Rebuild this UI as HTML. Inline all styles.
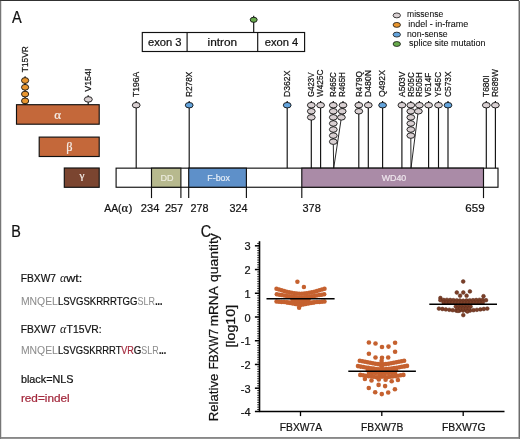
<!DOCTYPE html>
<html><head><meta charset="utf-8"><title>FBXW7 mutations</title>
<style>html,body{margin:0;padding:0;background:#fff;}svg{display:block;}text{stroke-width:0.22px;paint-order:stroke fill;}</style></head><body>
<svg width="520" height="439" viewBox="0 0 520 439">
<rect x="0" y="0" width="520" height="439" fill="#ffffff"/>
<rect x="0" y="0" width="519" height="0.95" fill="#262626"/>
<rect x="0" y="0.9" width="1" height="438.1" fill="#767676"/>
<rect x="1" y="0.95" width="1" height="436.2" fill="#dedede"/>
<rect x="518" y="1" width="1" height="437" fill="#b8b8b8"/>
<rect x="519" y="0.9" width="1" height="438.1" fill="#6c6c6c"/>
<rect x="0" y="437.1" width="520" height="1.7" fill="#7c7c7c"/>
<text x="12.10" y="22.90" font-size="17.0" fill="#111111" stroke="#111111" text-anchor="start" font-family='"Liberation Sans", sans-serif' textLength="9.70" lengthAdjust="spacingAndGlyphs">A</text>
<text x="11.20" y="236.70" font-size="15.6" fill="#111111" stroke="#111111" text-anchor="start" font-family='"Liberation Sans", sans-serif' textLength="9.60" lengthAdjust="spacingAndGlyphs">B</text>
<text x="200.70" y="237.10" font-size="16.2" fill="#111111" stroke="#111111" text-anchor="start" font-family='"Liberation Sans", sans-serif' textLength="10.50" lengthAdjust="spacingAndGlyphs">C</text>
<ellipse cx="396.80" cy="15.40" rx="3.7" ry="2.45" fill="#d9d0d2" stroke="#111111" stroke-width="0.8"/>
<text x="407.00" y="17.40" font-size="9.6" fill="#111111" stroke="#111111" text-anchor="start" font-family='"Liberation Sans", sans-serif' textLength="36.20" lengthAdjust="spacingAndGlyphs" style="stroke-width:0.08px">missense</text>
<ellipse cx="396.80" cy="24.90" rx="3.7" ry="2.45" fill="#e9962f" stroke="#111111" stroke-width="0.8"/>
<text x="408.30" y="27.30" font-size="9.6" fill="#111111" stroke="#111111" text-anchor="start" font-family='"Liberation Sans", sans-serif' textLength="60.00" lengthAdjust="spacingAndGlyphs" style="stroke-width:0.08px">indel - in-frame</text>
<ellipse cx="396.80" cy="34.60" rx="3.7" ry="2.45" fill="#64a4dc" stroke="#111111" stroke-width="0.8"/>
<text x="407.00" y="36.80" font-size="9.6" fill="#111111" stroke="#111111" text-anchor="start" font-family='"Liberation Sans", sans-serif' textLength="40.60" lengthAdjust="spacingAndGlyphs" style="stroke-width:0.08px">non-sense</text>
<ellipse cx="396.80" cy="44.00" rx="3.7" ry="2.45" fill="#68ab4c" stroke="#111111" stroke-width="0.8"/>
<text x="409.00" y="46.40" font-size="9.6" fill="#111111" stroke="#111111" text-anchor="start" font-family='"Liberation Sans", sans-serif' textLength="76.50" lengthAdjust="spacingAndGlyphs" style="stroke-width:0.08px">splice site mutation</text>
<rect x="142.3" y="32.5" width="162.3" height="19" fill="#fff" stroke="#111111" stroke-width="1.15"/>
<line x1="187.10" y1="32.50" x2="187.10" y2="51.50" stroke="#111111" stroke-width="1.15" stroke-linecap="butt"/>
<line x1="257.70" y1="32.50" x2="257.70" y2="51.50" stroke="#111111" stroke-width="1.15" stroke-linecap="butt"/>
<text x="148.00" y="45.50" font-size="11.3" fill="#111111" stroke="#111111" text-anchor="start" font-family='"Liberation Sans", sans-serif' textLength="33.60" lengthAdjust="spacingAndGlyphs">exon 3</text>
<text x="207.60" y="45.50" font-size="11.3" fill="#111111" stroke="#111111" text-anchor="start" font-family='"Liberation Sans", sans-serif' textLength="29.60" lengthAdjust="spacingAndGlyphs">intron</text>
<text x="264.70" y="45.50" font-size="11.3" fill="#111111" stroke="#111111" text-anchor="start" font-family='"Liberation Sans", sans-serif' textLength="33.60" lengthAdjust="spacingAndGlyphs">exon 4</text>
<line x1="253.70" y1="15.80" x2="253.70" y2="32.50" stroke="#111111" stroke-width="1.15" stroke-linecap="butt"/>
<ellipse cx="253.70" cy="19.80" rx="3.5" ry="2.55" fill="#68ab4c" stroke="#111111" stroke-width="0.9"/>
<rect x="16.5" y="104.7" width="82.7" height="19.5" fill="#c4683a" stroke="#111111" stroke-width="1.15"/>
<rect x="39.2" y="137.1" width="60" height="19.4" fill="#c4683a" stroke="#111111" stroke-width="1.15"/>
<rect x="64.3" y="168" width="34.9" height="19.3" fill="#7b4530" stroke="#111111" stroke-width="1.15"/>
<text x="57.60" y="119.00" font-size="13" fill="#f4ece6" stroke="#f4ece6" text-anchor="middle" font-family='"Liberation Serif", serif'>α</text>
<text x="69.40" y="151.20" font-size="12.4" fill="#f4ece6" stroke="#f4ece6" text-anchor="middle" font-family='"Liberation Serif", serif'>β</text>
<text x="81.90" y="179.00" font-size="11.2" fill="#f4ece6" stroke="#f4ece6" text-anchor="middle" font-family='"Liberation Serif", serif'>γ</text>
<line x1="25.10" y1="76.20" x2="25.10" y2="104.70" stroke="#111111" stroke-width="1.15" stroke-linecap="butt"/>
<ellipse cx="25.10" cy="100.90" rx="3.6" ry="2.9" fill="#e9962f" stroke="#111111" stroke-width="0.9"/>
<ellipse cx="25.10" cy="94.10" rx="3.6" ry="2.9" fill="#e9962f" stroke="#111111" stroke-width="0.9"/>
<ellipse cx="25.10" cy="87.30" rx="3.6" ry="2.9" fill="#e9962f" stroke="#111111" stroke-width="0.9"/>
<ellipse cx="25.10" cy="80.50" rx="3.6" ry="2.9" fill="#e9962f" stroke="#111111" stroke-width="0.9"/>
<text transform="translate(28.00 72.20) rotate(-90)" font-size="9.7" fill="#111111" stroke="#111111" font-family='"Liberation Sans", sans-serif' textLength="25.90" lengthAdjust="spacingAndGlyphs">T15VR</text>
<line x1="88.20" y1="95.20" x2="88.20" y2="104.70" stroke="#111111" stroke-width="1.15" stroke-linecap="butt"/>
<ellipse cx="88.30" cy="99.40" rx="4.0" ry="2.75" fill="#d9d0d2" stroke="#111111" stroke-width="0.9"/>
<text transform="translate(91.10 91.80) rotate(-90)" font-size="9.7" fill="#111111" stroke="#111111" font-family='"Liberation Sans", sans-serif' textLength="23.30" lengthAdjust="spacingAndGlyphs">V154I</text>
<rect x="116.1" y="168.15" width="381.9" height="19.1" fill="#fff" stroke="#111111" stroke-width="1.15"/>
<rect x="151.5" y="168.15" width="29.4" height="19.1" fill="#b7b98e" stroke="#111111" stroke-width="1.15"/>
<rect x="188.7" y="168.15" width="57.7" height="19.1" fill="#5e90c9" stroke="#111111" stroke-width="1.15"/>
<rect x="301.8" y="168.15" width="181.7" height="19.1" fill="#aa8ba7" stroke="#111111" stroke-width="1.15"/>
<text x="167.10" y="180.90" font-size="9.7" fill="#ecebdd" stroke="#ecebdd" text-anchor="middle" font-family='"Liberation Sans", sans-serif' textLength="13.00" lengthAdjust="spacingAndGlyphs">DD</text>
<text x="218.60" y="180.90" font-size="9.7" fill="#e3ecf6" stroke="#e3ecf6" text-anchor="middle" font-family='"Liberation Sans", sans-serif' textLength="22.60" lengthAdjust="spacingAndGlyphs">F-box</text>
<text x="394.00" y="180.90" font-size="9.7" fill="#eee6ed" stroke="#eee6ed" text-anchor="middle" font-family='"Liberation Sans", sans-serif' textLength="24.60" lengthAdjust="spacingAndGlyphs">WD40</text>
<line x1="151.50" y1="187.25" x2="151.50" y2="198.10" stroke="#111111" stroke-width="1.15" stroke-linecap="butt"/>
<line x1="180.90" y1="187.25" x2="180.90" y2="198.10" stroke="#111111" stroke-width="1.15" stroke-linecap="butt"/>
<line x1="188.70" y1="187.25" x2="188.70" y2="198.10" stroke="#111111" stroke-width="1.15" stroke-linecap="butt"/>
<line x1="246.40" y1="187.25" x2="246.40" y2="198.10" stroke="#111111" stroke-width="1.15" stroke-linecap="butt"/>
<line x1="301.80" y1="187.25" x2="301.80" y2="198.10" stroke="#111111" stroke-width="1.15" stroke-linecap="butt"/>
<line x1="483.50" y1="187.25" x2="483.50" y2="198.10" stroke="#111111" stroke-width="1.15" stroke-linecap="butt"/>
<text x="104.20" y="212.45" font-size="11.8" fill="#111111" stroke="#111111" text-anchor="start" font-family='"Liberation Sans", sans-serif' textLength="17.40" lengthAdjust="spacingAndGlyphs">AA(</text>
<text x="121.40" y="212.45" font-size="12.5" fill="#111111" stroke="#111111" text-anchor="start" font-family='"Liberation Serif", serif'>α</text>
<text x="128.50" y="212.45" font-size="11.8" fill="#111111" stroke="#111111" text-anchor="start" font-family='"Liberation Sans", sans-serif'>)</text>
<text x="140.80" y="212.45" font-size="11.8" fill="#111111" stroke="#111111" text-anchor="start" font-family='"Liberation Sans", sans-serif' textLength="18.50" lengthAdjust="spacingAndGlyphs">234</text>
<text x="164.90" y="212.45" font-size="11.8" fill="#111111" stroke="#111111" text-anchor="start" font-family='"Liberation Sans", sans-serif' textLength="18.30" lengthAdjust="spacingAndGlyphs">257</text>
<text x="190.50" y="212.45" font-size="11.8" fill="#111111" stroke="#111111" text-anchor="start" font-family='"Liberation Sans", sans-serif' textLength="18.00" lengthAdjust="spacingAndGlyphs">278</text>
<text x="229.50" y="212.45" font-size="11.8" fill="#111111" stroke="#111111" text-anchor="start" font-family='"Liberation Sans", sans-serif' textLength="18.00" lengthAdjust="spacingAndGlyphs">324</text>
<text x="302.50" y="212.45" font-size="11.8" fill="#111111" stroke="#111111" text-anchor="start" font-family='"Liberation Sans", sans-serif' textLength="18.30" lengthAdjust="spacingAndGlyphs">378</text>
<text x="465.30" y="212.45" font-size="11.8" fill="#111111" stroke="#111111" text-anchor="start" font-family='"Liberation Sans", sans-serif' textLength="19.30" lengthAdjust="spacingAndGlyphs">659</text>
<line x1="136.20" y1="101.00" x2="136.20" y2="168.15" stroke="#111111" stroke-width="1.15" stroke-linecap="butt"/>
<ellipse cx="136.20" cy="105.20" rx="3.9" ry="2.75" fill="#d9d0d2" stroke="#111111" stroke-width="0.9"/>
<text transform="translate(138.90 97.00) rotate(-90)" font-size="9.7" fill="#111111" stroke="#111111" font-family='"Liberation Sans", sans-serif' textLength="25.30" lengthAdjust="spacingAndGlyphs">T196A</text>
<line x1="189.20" y1="101.00" x2="189.20" y2="168.15" stroke="#111111" stroke-width="1.15" stroke-linecap="butt"/>
<ellipse cx="189.20" cy="105.20" rx="3.9" ry="2.75" fill="#64a4dc" stroke="#111111" stroke-width="0.9"/>
<text transform="translate(191.90 97.00) rotate(-90)" font-size="9.7" fill="#111111" stroke="#111111" font-family='"Liberation Sans", sans-serif' textLength="25.30" lengthAdjust="spacingAndGlyphs">R278X</text>
<line x1="287.20" y1="101.00" x2="287.20" y2="168.15" stroke="#111111" stroke-width="1.15" stroke-linecap="butt"/>
<ellipse cx="287.20" cy="105.20" rx="3.9" ry="2.75" fill="#64a4dc" stroke="#111111" stroke-width="0.9"/>
<text transform="translate(289.90 97.00) rotate(-90)" font-size="9.7" fill="#111111" stroke="#111111" font-family='"Liberation Sans", sans-serif' textLength="26.40" lengthAdjust="spacingAndGlyphs">D362X</text>
<line x1="311.30" y1="101.00" x2="311.30" y2="168.15" stroke="#111111" stroke-width="1.15" stroke-linecap="butt"/>
<ellipse cx="311.30" cy="117.36" rx="3.9" ry="2.75" fill="#d9d0d2" stroke="#111111" stroke-width="0.9"/>
<ellipse cx="311.30" cy="111.28" rx="3.9" ry="2.75" fill="#d9d0d2" stroke="#111111" stroke-width="0.9"/>
<ellipse cx="311.30" cy="105.20" rx="3.9" ry="2.75" fill="#d9d0d2" stroke="#111111" stroke-width="0.9"/>
<text transform="translate(314.00 97.00) rotate(-90)" font-size="9.7" fill="#111111" stroke="#111111" font-family='"Liberation Sans", sans-serif' textLength="24.50" lengthAdjust="spacingAndGlyphs">G423V</text>
<line x1="320.60" y1="101.00" x2="320.60" y2="168.15" stroke="#111111" stroke-width="1.15" stroke-linecap="butt"/>
<ellipse cx="320.60" cy="105.20" rx="3.9" ry="2.75" fill="#d9d0d2" stroke="#111111" stroke-width="0.9"/>
<text transform="translate(323.30 97.00) rotate(-90)" font-size="9.7" fill="#111111" stroke="#111111" font-family='"Liberation Sans", sans-serif' textLength="27.50" lengthAdjust="spacingAndGlyphs">W425C</text>
<line x1="333.30" y1="101.00" x2="333.30" y2="141.20" stroke="#111111" stroke-width="1.15" stroke-linecap="butt"/>
<line x1="333.30" y1="144.28" x2="333.70" y2="168.15" stroke="#111111" stroke-width="0.9" stroke-linecap="butt"/>
<ellipse cx="333.30" cy="141.68" rx="3.9" ry="2.75" fill="#d9d0d2" stroke="#111111" stroke-width="0.9"/>
<ellipse cx="333.30" cy="135.60" rx="3.9" ry="2.75" fill="#d9d0d2" stroke="#111111" stroke-width="0.9"/>
<ellipse cx="333.30" cy="129.52" rx="3.9" ry="2.75" fill="#d9d0d2" stroke="#111111" stroke-width="0.9"/>
<ellipse cx="333.30" cy="123.44" rx="3.9" ry="2.75" fill="#d9d0d2" stroke="#111111" stroke-width="0.9"/>
<ellipse cx="333.30" cy="117.36" rx="3.9" ry="2.75" fill="#d9d0d2" stroke="#111111" stroke-width="0.9"/>
<ellipse cx="333.30" cy="111.28" rx="3.9" ry="2.75" fill="#d9d0d2" stroke="#111111" stroke-width="0.9"/>
<ellipse cx="333.30" cy="105.20" rx="3.9" ry="2.75" fill="#d9d0d2" stroke="#111111" stroke-width="0.9"/>
<text transform="translate(336.00 97.00) rotate(-90)" font-size="9.7" fill="#111111" stroke="#111111" font-family='"Liberation Sans", sans-serif' textLength="24.90" lengthAdjust="spacingAndGlyphs">R465C</text>
<line x1="343.00" y1="101.00" x2="343.00" y2="117.20" stroke="#111111" stroke-width="1.15" stroke-linecap="butt"/>
<line x1="341.00" y1="119.96" x2="333.70" y2="168.15" stroke="#111111" stroke-width="0.9" stroke-linecap="butt"/>
<ellipse cx="341.40" cy="117.36" rx="3.9" ry="2.75" fill="#d9d0d2" stroke="#111111" stroke-width="0.9"/>
<ellipse cx="342.20" cy="111.28" rx="3.9" ry="2.75" fill="#d9d0d2" stroke="#111111" stroke-width="0.9"/>
<ellipse cx="343.00" cy="105.20" rx="3.9" ry="2.75" fill="#d9d0d2" stroke="#111111" stroke-width="0.9"/>
<text transform="translate(345.30 97.00) rotate(-90)" font-size="9.7" fill="#111111" stroke="#111111" font-family='"Liberation Sans", sans-serif' textLength="24.90" lengthAdjust="spacingAndGlyphs">R465H</text>
<line x1="358.80" y1="101.00" x2="358.80" y2="168.15" stroke="#111111" stroke-width="1.15" stroke-linecap="butt"/>
<ellipse cx="358.80" cy="111.28" rx="3.9" ry="2.75" fill="#d9d0d2" stroke="#111111" stroke-width="0.9"/>
<ellipse cx="358.80" cy="105.20" rx="3.9" ry="2.75" fill="#d9d0d2" stroke="#111111" stroke-width="0.9"/>
<text transform="translate(361.50 97.00) rotate(-90)" font-size="9.7" fill="#111111" stroke="#111111" font-family='"Liberation Sans", sans-serif' textLength="25.70" lengthAdjust="spacingAndGlyphs">R479Q</text>
<line x1="368.30" y1="101.00" x2="368.30" y2="168.15" stroke="#111111" stroke-width="1.15" stroke-linecap="butt"/>
<ellipse cx="368.30" cy="105.20" rx="3.9" ry="2.75" fill="#d9d0d2" stroke="#111111" stroke-width="0.9"/>
<text transform="translate(371.00 97.00) rotate(-90)" font-size="9.7" fill="#111111" stroke="#111111" font-family='"Liberation Sans", sans-serif' textLength="27.00" lengthAdjust="spacingAndGlyphs">D480N</text>
<line x1="382.60" y1="101.00" x2="382.60" y2="168.15" stroke="#111111" stroke-width="1.15" stroke-linecap="butt"/>
<ellipse cx="382.60" cy="105.20" rx="3.9" ry="2.75" fill="#64a4dc" stroke="#111111" stroke-width="0.9"/>
<text transform="translate(385.30 97.00) rotate(-90)" font-size="9.7" fill="#111111" stroke="#111111" font-family='"Liberation Sans", sans-serif' textLength="26.90" lengthAdjust="spacingAndGlyphs">Q492X</text>
<line x1="401.90" y1="101.00" x2="401.90" y2="168.15" stroke="#111111" stroke-width="1.15" stroke-linecap="butt"/>
<ellipse cx="401.90" cy="105.20" rx="3.9" ry="2.75" fill="#d9d0d2" stroke="#111111" stroke-width="0.9"/>
<text transform="translate(404.60 97.00) rotate(-90)" font-size="9.7" fill="#111111" stroke="#111111" font-family='"Liberation Sans", sans-serif' textLength="25.50" lengthAdjust="spacingAndGlyphs">A503V</text>
<line x1="410.80" y1="101.00" x2="410.80" y2="135.20" stroke="#111111" stroke-width="1.15" stroke-linecap="butt"/>
<line x1="410.80" y1="138.20" x2="411.00" y2="168.15" stroke="#111111" stroke-width="0.9" stroke-linecap="butt"/>
<ellipse cx="410.80" cy="135.60" rx="3.9" ry="2.75" fill="#d9d0d2" stroke="#111111" stroke-width="0.9"/>
<ellipse cx="410.80" cy="129.52" rx="3.9" ry="2.75" fill="#d9d0d2" stroke="#111111" stroke-width="0.9"/>
<ellipse cx="410.80" cy="123.44" rx="3.9" ry="2.75" fill="#d9d0d2" stroke="#111111" stroke-width="0.9"/>
<ellipse cx="410.80" cy="117.36" rx="3.9" ry="2.75" fill="#d9d0d2" stroke="#111111" stroke-width="0.9"/>
<ellipse cx="410.80" cy="111.28" rx="3.9" ry="2.75" fill="#d9d0d2" stroke="#111111" stroke-width="0.9"/>
<ellipse cx="410.80" cy="105.20" rx="3.9" ry="2.75" fill="#d9d0d2" stroke="#111111" stroke-width="0.9"/>
<text transform="translate(413.50 97.00) rotate(-90)" font-size="9.7" fill="#111111" stroke="#111111" font-family='"Liberation Sans", sans-serif' textLength="24.70" lengthAdjust="spacingAndGlyphs">R505C</text>
<line x1="419.40" y1="101.00" x2="419.40" y2="111.20" stroke="#111111" stroke-width="1.15" stroke-linecap="butt"/>
<line x1="417.90" y1="113.88" x2="411.00" y2="168.15" stroke="#111111" stroke-width="0.9" stroke-linecap="butt"/>
<ellipse cx="418.40" cy="111.28" rx="3.9" ry="2.75" fill="#d9d0d2" stroke="#111111" stroke-width="0.9"/>
<ellipse cx="419.40" cy="105.20" rx="3.9" ry="2.75" fill="#d9d0d2" stroke="#111111" stroke-width="0.9"/>
<text transform="translate(422.10 97.00) rotate(-90)" font-size="9.7" fill="#111111" stroke="#111111" font-family='"Liberation Sans", sans-serif' textLength="24.70" lengthAdjust="spacingAndGlyphs">R505H</text>
<line x1="428.60" y1="101.00" x2="428.60" y2="168.15" stroke="#111111" stroke-width="1.15" stroke-linecap="butt"/>
<ellipse cx="428.60" cy="105.20" rx="3.9" ry="2.75" fill="#d9d0d2" stroke="#111111" stroke-width="0.9"/>
<text transform="translate(431.30 97.00) rotate(-90)" font-size="9.7" fill="#111111" stroke="#111111" font-family='"Liberation Sans", sans-serif' textLength="24.30" lengthAdjust="spacingAndGlyphs">V514F</text>
<line x1="438.50" y1="101.00" x2="438.50" y2="168.15" stroke="#111111" stroke-width="1.15" stroke-linecap="butt"/>
<ellipse cx="438.50" cy="105.20" rx="3.9" ry="2.75" fill="#d9d0d2" stroke="#111111" stroke-width="0.9"/>
<text transform="translate(441.20 97.00) rotate(-90)" font-size="9.7" fill="#111111" stroke="#111111" font-family='"Liberation Sans", sans-serif' textLength="25.10" lengthAdjust="spacingAndGlyphs">Y545C</text>
<line x1="448.00" y1="101.00" x2="448.00" y2="168.15" stroke="#111111" stroke-width="1.15" stroke-linecap="butt"/>
<ellipse cx="448.00" cy="105.20" rx="3.9" ry="2.75" fill="#64a4dc" stroke="#111111" stroke-width="0.9"/>
<text transform="translate(450.70 97.00) rotate(-90)" font-size="9.7" fill="#111111" stroke="#111111" font-family='"Liberation Sans", sans-serif' textLength="25.50" lengthAdjust="spacingAndGlyphs">C573X</text>
<line x1="486.30" y1="101.00" x2="486.30" y2="168.15" stroke="#111111" stroke-width="1.15" stroke-linecap="butt"/>
<ellipse cx="486.30" cy="105.20" rx="3.9" ry="2.75" fill="#d9d0d2" stroke="#111111" stroke-width="0.9"/>
<text transform="translate(489.00 97.00) rotate(-90)" font-size="9.7" fill="#111111" stroke="#111111" font-family='"Liberation Sans", sans-serif' textLength="21.60" lengthAdjust="spacingAndGlyphs">T680I</text>
<line x1="495.40" y1="101.00" x2="495.40" y2="168.15" stroke="#111111" stroke-width="1.15" stroke-linecap="butt"/>
<ellipse cx="495.40" cy="105.20" rx="3.9" ry="2.75" fill="#d9d0d2" stroke="#111111" stroke-width="0.9"/>
<text transform="translate(498.10 97.00) rotate(-90)" font-size="9.7" fill="#111111" stroke="#111111" font-family='"Liberation Sans", sans-serif' textLength="27.80" lengthAdjust="spacingAndGlyphs">R689W</text>
<text x="20.80" y="281.90" font-size="11.5" fill="#111111" stroke="#111111" text-anchor="start" font-family='"Liberation Sans", sans-serif' textLength="35.20" lengthAdjust="spacingAndGlyphs">FBXW7</text>
<text x="59.90" y="281.90" font-size="12" fill="#111111" stroke="#111111" text-anchor="start" font-family='"Liberation Serif", serif' font-style="italic" style="stroke-width:0">α</text>
<text x="66.30" y="281.90" font-size="11.5" fill="#111111" stroke="#111111" text-anchor="start" font-family='"Liberation Sans", sans-serif' textLength="16.00" lengthAdjust="spacingAndGlyphs">wt:</text>
<text x="20.90" y="305.00" font-size="11.5" fill="#8c8c8c" stroke="#8c8c8c" text-anchor="start" font-family='"Liberation Sans", sans-serif' textLength="37.00" lengthAdjust="spacingAndGlyphs" style="stroke-width:0.05px">MNQEL</text>
<text x="57.90" y="305.00" font-size="11.5" fill="#111111" stroke="#111111" text-anchor="start" font-family='"Liberation Sans", sans-serif' textLength="79.60" lengthAdjust="spacingAndGlyphs">LSVGSKRRRTGG</text>
<text x="137.60" y="305.00" font-size="11.5" fill="#8c8c8c" stroke="#8c8c8c" text-anchor="start" font-family='"Liberation Sans", sans-serif' textLength="17.40" lengthAdjust="spacingAndGlyphs" style="stroke-width:0.05px">SLR</text>
<text x="155.20" y="305.00" font-size="11.5" fill="#111111" stroke="#111111" text-anchor="start" font-family='"Liberation Sans", sans-serif' textLength="7.20" lengthAdjust="spacingAndGlyphs" font-weight="bold">...</text>
<text x="20.80" y="333.40" font-size="11.5" fill="#111111" stroke="#111111" text-anchor="start" font-family='"Liberation Sans", sans-serif' textLength="35.20" lengthAdjust="spacingAndGlyphs">FBXW7</text>
<text x="59.90" y="333.40" font-size="12" fill="#111111" stroke="#111111" text-anchor="start" font-family='"Liberation Serif", serif' font-style="italic" style="stroke-width:0">α</text>
<text x="66.60" y="333.40" font-size="11.5" fill="#111111" stroke="#111111" text-anchor="start" font-family='"Liberation Sans", sans-serif' textLength="35.00" lengthAdjust="spacingAndGlyphs">T15VR:</text>
<text x="20.90" y="354.20" font-size="11.5" fill="#8c8c8c" stroke="#8c8c8c" text-anchor="start" font-family='"Liberation Sans", sans-serif' textLength="37.00" lengthAdjust="spacingAndGlyphs" style="stroke-width:0.05px">MNQEL</text>
<text x="57.90" y="354.20" font-size="11.5" fill="#111111" stroke="#111111" text-anchor="start" font-family='"Liberation Sans", sans-serif' textLength="63.60" lengthAdjust="spacingAndGlyphs">LSVGSKRRRT</text>
<text x="121.30" y="354.20" font-size="11.5" fill="#a3283c" stroke="#a3283c" text-anchor="start" font-family='"Liberation Sans", sans-serif' textLength="12.60" lengthAdjust="spacingAndGlyphs">VR</text>
<text x="133.70" y="354.20" font-size="11.5" fill="#111111" stroke="#111111" text-anchor="start" font-family='"Liberation Sans", sans-serif' textLength="7.60" lengthAdjust="spacingAndGlyphs">G</text>
<text x="141.30" y="354.20" font-size="11.5" fill="#8c8c8c" stroke="#8c8c8c" text-anchor="start" font-family='"Liberation Sans", sans-serif' textLength="17.40" lengthAdjust="spacingAndGlyphs" style="stroke-width:0.05px">SLR</text>
<text x="158.90" y="354.20" font-size="11.5" fill="#111111" stroke="#111111" text-anchor="start" font-family='"Liberation Sans", sans-serif' textLength="7.20" lengthAdjust="spacingAndGlyphs" font-weight="bold">...</text>
<text x="20.90" y="382.80" font-size="11.5" fill="#111111" stroke="#111111" text-anchor="start" font-family='"Liberation Sans", sans-serif' textLength="52.60" lengthAdjust="spacingAndGlyphs">black=NLS</text>
<text x="20.90" y="401.80" font-size="11.5" fill="#a3283c" stroke="#a3283c" text-anchor="start" font-family='"Liberation Sans", sans-serif' textLength="48.80" lengthAdjust="spacingAndGlyphs">red=indel</text>
<line x1="259.50" y1="241.20" x2="259.50" y2="412.10" stroke="#000" stroke-width="1.6" stroke-linecap="butt"/>
<line x1="254.90" y1="411.55" x2="504.50" y2="411.55" stroke="#000" stroke-width="1.6" stroke-linecap="butt"/>
<text x="250.60" y="416.22" font-size="11.0" fill="#111111" stroke="#111111" text-anchor="end" font-family='"Liberation Sans", sans-serif'>-4</text>
<line x1="257.20" y1="409.55" x2="259.50" y2="409.55" stroke="#111" stroke-width="0.9" stroke-linecap="butt"/>
<line x1="257.20" y1="407.17" x2="259.50" y2="407.17" stroke="#111" stroke-width="0.9" stroke-linecap="butt"/>
<line x1="257.20" y1="404.80" x2="259.50" y2="404.80" stroke="#111" stroke-width="0.9" stroke-linecap="butt"/>
<line x1="257.20" y1="402.43" x2="259.50" y2="402.43" stroke="#111" stroke-width="0.9" stroke-linecap="butt"/>
<line x1="257.20" y1="400.06" x2="259.50" y2="400.06" stroke="#111" stroke-width="0.9" stroke-linecap="butt"/>
<line x1="257.20" y1="397.68" x2="259.50" y2="397.68" stroke="#111" stroke-width="0.9" stroke-linecap="butt"/>
<line x1="257.20" y1="395.31" x2="259.50" y2="395.31" stroke="#111" stroke-width="0.9" stroke-linecap="butt"/>
<line x1="257.20" y1="392.94" x2="259.50" y2="392.94" stroke="#111" stroke-width="0.9" stroke-linecap="butt"/>
<line x1="257.20" y1="390.56" x2="259.50" y2="390.56" stroke="#111" stroke-width="0.9" stroke-linecap="butt"/>
<line x1="254.90" y1="388.19" x2="259.50" y2="388.19" stroke="#000" stroke-width="1.5" stroke-linecap="butt"/>
<text x="250.60" y="392.69" font-size="11.0" fill="#111111" stroke="#111111" text-anchor="end" font-family='"Liberation Sans", sans-serif'>-3</text>
<line x1="257.20" y1="385.82" x2="259.50" y2="385.82" stroke="#111" stroke-width="0.9" stroke-linecap="butt"/>
<line x1="257.20" y1="383.44" x2="259.50" y2="383.44" stroke="#111" stroke-width="0.9" stroke-linecap="butt"/>
<line x1="257.20" y1="381.07" x2="259.50" y2="381.07" stroke="#111" stroke-width="0.9" stroke-linecap="butt"/>
<line x1="257.20" y1="378.70" x2="259.50" y2="378.70" stroke="#111" stroke-width="0.9" stroke-linecap="butt"/>
<line x1="257.20" y1="376.32" x2="259.50" y2="376.32" stroke="#111" stroke-width="0.9" stroke-linecap="butt"/>
<line x1="257.20" y1="373.95" x2="259.50" y2="373.95" stroke="#111" stroke-width="0.9" stroke-linecap="butt"/>
<line x1="257.20" y1="371.58" x2="259.50" y2="371.58" stroke="#111" stroke-width="0.9" stroke-linecap="butt"/>
<line x1="257.20" y1="369.21" x2="259.50" y2="369.21" stroke="#111" stroke-width="0.9" stroke-linecap="butt"/>
<line x1="257.20" y1="366.83" x2="259.50" y2="366.83" stroke="#111" stroke-width="0.9" stroke-linecap="butt"/>
<line x1="254.90" y1="364.46" x2="259.50" y2="364.46" stroke="#000" stroke-width="1.5" stroke-linecap="butt"/>
<text x="250.60" y="368.86" font-size="11.0" fill="#111111" stroke="#111111" text-anchor="end" font-family='"Liberation Sans", sans-serif'>-2</text>
<line x1="257.20" y1="362.09" x2="259.50" y2="362.09" stroke="#111" stroke-width="0.9" stroke-linecap="butt"/>
<line x1="257.20" y1="359.71" x2="259.50" y2="359.71" stroke="#111" stroke-width="0.9" stroke-linecap="butt"/>
<line x1="257.20" y1="357.34" x2="259.50" y2="357.34" stroke="#111" stroke-width="0.9" stroke-linecap="butt"/>
<line x1="257.20" y1="354.97" x2="259.50" y2="354.97" stroke="#111" stroke-width="0.9" stroke-linecap="butt"/>
<line x1="257.20" y1="352.60" x2="259.50" y2="352.60" stroke="#111" stroke-width="0.9" stroke-linecap="butt"/>
<line x1="257.20" y1="350.22" x2="259.50" y2="350.22" stroke="#111" stroke-width="0.9" stroke-linecap="butt"/>
<line x1="257.20" y1="347.85" x2="259.50" y2="347.85" stroke="#111" stroke-width="0.9" stroke-linecap="butt"/>
<line x1="257.20" y1="345.48" x2="259.50" y2="345.48" stroke="#111" stroke-width="0.9" stroke-linecap="butt"/>
<line x1="257.20" y1="343.10" x2="259.50" y2="343.10" stroke="#111" stroke-width="0.9" stroke-linecap="butt"/>
<line x1="254.90" y1="340.73" x2="259.50" y2="340.73" stroke="#000" stroke-width="1.5" stroke-linecap="butt"/>
<text x="250.60" y="344.73" font-size="11.0" fill="#111111" stroke="#111111" text-anchor="end" font-family='"Liberation Sans", sans-serif'>-1</text>
<line x1="257.20" y1="338.36" x2="259.50" y2="338.36" stroke="#111" stroke-width="0.9" stroke-linecap="butt"/>
<line x1="257.20" y1="335.98" x2="259.50" y2="335.98" stroke="#111" stroke-width="0.9" stroke-linecap="butt"/>
<line x1="257.20" y1="333.61" x2="259.50" y2="333.61" stroke="#111" stroke-width="0.9" stroke-linecap="butt"/>
<line x1="257.20" y1="331.24" x2="259.50" y2="331.24" stroke="#111" stroke-width="0.9" stroke-linecap="butt"/>
<line x1="257.20" y1="328.87" x2="259.50" y2="328.87" stroke="#111" stroke-width="0.9" stroke-linecap="butt"/>
<line x1="257.20" y1="326.49" x2="259.50" y2="326.49" stroke="#111" stroke-width="0.9" stroke-linecap="butt"/>
<line x1="257.20" y1="324.12" x2="259.50" y2="324.12" stroke="#111" stroke-width="0.9" stroke-linecap="butt"/>
<line x1="257.20" y1="321.75" x2="259.50" y2="321.75" stroke="#111" stroke-width="0.9" stroke-linecap="butt"/>
<line x1="257.20" y1="319.37" x2="259.50" y2="319.37" stroke="#111" stroke-width="0.9" stroke-linecap="butt"/>
<line x1="254.90" y1="317.00" x2="259.50" y2="317.00" stroke="#000" stroke-width="1.5" stroke-linecap="butt"/>
<text x="250.60" y="321.70" font-size="11.0" fill="#111111" stroke="#111111" text-anchor="end" font-family='"Liberation Sans", sans-serif'>0</text>
<line x1="257.20" y1="314.63" x2="259.50" y2="314.63" stroke="#111" stroke-width="0.9" stroke-linecap="butt"/>
<line x1="257.20" y1="312.25" x2="259.50" y2="312.25" stroke="#111" stroke-width="0.9" stroke-linecap="butt"/>
<line x1="257.20" y1="309.88" x2="259.50" y2="309.88" stroke="#111" stroke-width="0.9" stroke-linecap="butt"/>
<line x1="257.20" y1="307.51" x2="259.50" y2="307.51" stroke="#111" stroke-width="0.9" stroke-linecap="butt"/>
<line x1="257.20" y1="305.13" x2="259.50" y2="305.13" stroke="#111" stroke-width="0.9" stroke-linecap="butt"/>
<line x1="257.20" y1="302.76" x2="259.50" y2="302.76" stroke="#111" stroke-width="0.9" stroke-linecap="butt"/>
<line x1="257.20" y1="300.39" x2="259.50" y2="300.39" stroke="#111" stroke-width="0.9" stroke-linecap="butt"/>
<line x1="257.20" y1="298.02" x2="259.50" y2="298.02" stroke="#111" stroke-width="0.9" stroke-linecap="butt"/>
<line x1="257.20" y1="295.64" x2="259.50" y2="295.64" stroke="#111" stroke-width="0.9" stroke-linecap="butt"/>
<line x1="254.90" y1="293.27" x2="259.50" y2="293.27" stroke="#000" stroke-width="1.5" stroke-linecap="butt"/>
<text x="250.60" y="297.72" font-size="11.0" fill="#111111" stroke="#111111" text-anchor="end" font-family='"Liberation Sans", sans-serif'>1</text>
<line x1="257.20" y1="290.90" x2="259.50" y2="290.90" stroke="#111" stroke-width="0.9" stroke-linecap="butt"/>
<line x1="257.20" y1="288.52" x2="259.50" y2="288.52" stroke="#111" stroke-width="0.9" stroke-linecap="butt"/>
<line x1="257.20" y1="286.15" x2="259.50" y2="286.15" stroke="#111" stroke-width="0.9" stroke-linecap="butt"/>
<line x1="257.20" y1="283.78" x2="259.50" y2="283.78" stroke="#111" stroke-width="0.9" stroke-linecap="butt"/>
<line x1="257.20" y1="281.40" x2="259.50" y2="281.40" stroke="#111" stroke-width="0.9" stroke-linecap="butt"/>
<line x1="257.20" y1="279.03" x2="259.50" y2="279.03" stroke="#111" stroke-width="0.9" stroke-linecap="butt"/>
<line x1="257.20" y1="276.66" x2="259.50" y2="276.66" stroke="#111" stroke-width="0.9" stroke-linecap="butt"/>
<line x1="257.20" y1="274.29" x2="259.50" y2="274.29" stroke="#111" stroke-width="0.9" stroke-linecap="butt"/>
<line x1="257.20" y1="271.91" x2="259.50" y2="271.91" stroke="#111" stroke-width="0.9" stroke-linecap="butt"/>
<line x1="254.90" y1="269.54" x2="259.50" y2="269.54" stroke="#000" stroke-width="1.5" stroke-linecap="butt"/>
<text x="250.60" y="273.99" font-size="11.0" fill="#111111" stroke="#111111" text-anchor="end" font-family='"Liberation Sans", sans-serif'>2</text>
<line x1="257.20" y1="267.17" x2="259.50" y2="267.17" stroke="#111" stroke-width="0.9" stroke-linecap="butt"/>
<line x1="257.20" y1="264.79" x2="259.50" y2="264.79" stroke="#111" stroke-width="0.9" stroke-linecap="butt"/>
<line x1="257.20" y1="262.42" x2="259.50" y2="262.42" stroke="#111" stroke-width="0.9" stroke-linecap="butt"/>
<line x1="257.20" y1="260.05" x2="259.50" y2="260.05" stroke="#111" stroke-width="0.9" stroke-linecap="butt"/>
<line x1="257.20" y1="257.68" x2="259.50" y2="257.68" stroke="#111" stroke-width="0.9" stroke-linecap="butt"/>
<line x1="257.20" y1="255.30" x2="259.50" y2="255.30" stroke="#111" stroke-width="0.9" stroke-linecap="butt"/>
<line x1="257.20" y1="252.93" x2="259.50" y2="252.93" stroke="#111" stroke-width="0.9" stroke-linecap="butt"/>
<line x1="257.20" y1="250.56" x2="259.50" y2="250.56" stroke="#111" stroke-width="0.9" stroke-linecap="butt"/>
<line x1="257.20" y1="248.18" x2="259.50" y2="248.18" stroke="#111" stroke-width="0.9" stroke-linecap="butt"/>
<line x1="254.90" y1="245.81" x2="259.50" y2="245.81" stroke="#000" stroke-width="1.5" stroke-linecap="butt"/>
<text x="250.60" y="249.61" font-size="11.0" fill="#111111" stroke="#111111" text-anchor="end" font-family='"Liberation Sans", sans-serif'>3</text>
<line x1="257.20" y1="243.44" x2="259.50" y2="243.44" stroke="#111" stroke-width="0.9" stroke-linecap="butt"/>
<line x1="300.50" y1="411.50" x2="300.50" y2="416.10" stroke="#000" stroke-width="1.3" stroke-linecap="butt"/>
<line x1="381.80" y1="411.50" x2="381.80" y2="416.10" stroke="#000" stroke-width="1.3" stroke-linecap="butt"/>
<line x1="463.20" y1="411.50" x2="463.20" y2="416.10" stroke="#000" stroke-width="1.3" stroke-linecap="butt"/>
<text x="279.70" y="430.55" font-size="11.5" fill="#111111" stroke="#111111" text-anchor="start" font-family='"Liberation Sans", sans-serif' textLength="42.60" lengthAdjust="spacingAndGlyphs">FBXW7A</text>
<text x="361.10" y="430.55" font-size="11.5" fill="#111111" stroke="#111111" text-anchor="start" font-family='"Liberation Sans", sans-serif' textLength="42.20" lengthAdjust="spacingAndGlyphs">FBXW7B</text>
<text x="441.90" y="430.55" font-size="11.5" fill="#111111" stroke="#111111" text-anchor="start" font-family='"Liberation Sans", sans-serif' textLength="43.80" lengthAdjust="spacingAndGlyphs">FBXW7G</text>
<text transform="translate(217.75 421.30) rotate(-90)" font-size="12.9" fill="#111111" stroke="#111111" font-family='"Liberation Sans", sans-serif' textLength="47.60" lengthAdjust="spacingAndGlyphs">Relative</text>
<text transform="translate(217.75 369.30) rotate(-90)" font-size="12.9" fill="#111111" stroke="#111111" font-family='"Liberation Sans", sans-serif' textLength="40.20" lengthAdjust="spacingAndGlyphs">FBXW7</text>
<text transform="translate(217.75 326.30) rotate(-90)" font-size="12.9" fill="#111111" stroke="#111111" font-family='"Liberation Sans", sans-serif' textLength="40.00" lengthAdjust="spacingAndGlyphs">mRNA</text>
<text transform="translate(217.75 281.90) rotate(-90)" font-size="12.9" fill="#111111" stroke="#111111" font-family='"Liberation Sans", sans-serif' textLength="48.60" lengthAdjust="spacingAndGlyphs">quantity</text>
<text transform="translate(234.85 347.6) rotate(-90)" font-size="12.2" fill="#111111" stroke="#111111" font-family='"Liberation Sans", sans-serif' textLength="42.7" lengthAdjust="spacingAndGlyphs">[log10]</text>
<g fill="#c5612f">
<circle cx="297.4" cy="281.7" r="2.25"/>
<circle cx="303.9" cy="287.1" r="2.25"/>
<circle cx="299.1" cy="307.8" r="2.25"/>
<circle cx="276.5" cy="288.8" r="2.25"/>
<circle cx="279.0" cy="289.6" r="2.25"/>
<circle cx="281.6" cy="290.3" r="2.25"/>
<circle cx="284.1" cy="291.0" r="2.25"/>
<circle cx="286.6" cy="291.7" r="2.25"/>
<circle cx="289.1" cy="292.2" r="2.25"/>
<circle cx="291.7" cy="292.8" r="2.25"/>
<circle cx="294.2" cy="293.2" r="2.25"/>
<circle cx="296.7" cy="293.6" r="2.25"/>
<circle cx="299.2" cy="293.8" r="2.25"/>
<circle cx="301.8" cy="293.8" r="2.25"/>
<circle cx="304.3" cy="293.6" r="2.25"/>
<circle cx="306.8" cy="293.2" r="2.25"/>
<circle cx="309.3" cy="292.8" r="2.25"/>
<circle cx="311.9" cy="292.2" r="2.25"/>
<circle cx="314.4" cy="291.7" r="2.25"/>
<circle cx="316.9" cy="291.0" r="2.25"/>
<circle cx="319.4" cy="290.3" r="2.25"/>
<circle cx="322.0" cy="289.6" r="2.25"/>
<circle cx="324.5" cy="288.8" r="2.25"/>
<circle cx="276.8" cy="294.2" r="2.25"/>
<circle cx="279.3" cy="294.7" r="2.25"/>
<circle cx="281.8" cy="295.1" r="2.25"/>
<circle cx="284.3" cy="295.6" r="2.25"/>
<circle cx="286.8" cy="296.0" r="2.25"/>
<circle cx="289.3" cy="296.3" r="2.25"/>
<circle cx="291.8" cy="296.7" r="2.25"/>
<circle cx="294.3" cy="297.0" r="2.25"/>
<circle cx="296.8" cy="297.3" r="2.25"/>
<circle cx="299.3" cy="297.4" r="2.25"/>
<circle cx="301.7" cy="297.4" r="2.25"/>
<circle cx="304.2" cy="297.3" r="2.25"/>
<circle cx="306.7" cy="297.0" r="2.25"/>
<circle cx="309.2" cy="296.7" r="2.25"/>
<circle cx="311.7" cy="296.3" r="2.25"/>
<circle cx="314.2" cy="296.0" r="2.25"/>
<circle cx="316.7" cy="295.6" r="2.25"/>
<circle cx="319.2" cy="295.1" r="2.25"/>
<circle cx="321.7" cy="294.7" r="2.25"/>
<circle cx="324.2" cy="294.2" r="2.25"/>
<circle cx="292.5" cy="299.4" r="2.25"/>
<circle cx="295.2" cy="299.4" r="2.25"/>
<circle cx="297.8" cy="299.4" r="2.25"/>
<circle cx="300.5" cy="299.4" r="2.25"/>
<circle cx="303.2" cy="299.4" r="2.25"/>
<circle cx="305.8" cy="299.4" r="2.25"/>
<circle cx="308.5" cy="299.4" r="2.25"/>
<circle cx="276.5" cy="301.5" r="2.25"/>
<circle cx="279.0" cy="301.7" r="2.25"/>
<circle cx="281.6" cy="301.9" r="2.25"/>
<circle cx="284.1" cy="302.0" r="2.25"/>
<circle cx="286.6" cy="302.2" r="2.25"/>
<circle cx="289.1" cy="302.4" r="2.25"/>
<circle cx="291.7" cy="302.6" r="2.25"/>
<circle cx="294.2" cy="302.8" r="2.25"/>
<circle cx="296.7" cy="302.9" r="2.25"/>
<circle cx="299.2" cy="303.1" r="2.25"/>
<circle cx="301.8" cy="303.1" r="2.25"/>
<circle cx="304.3" cy="302.9" r="2.25"/>
<circle cx="306.8" cy="302.8" r="2.25"/>
<circle cx="309.3" cy="302.6" r="2.25"/>
<circle cx="311.9" cy="302.4" r="2.25"/>
<circle cx="314.4" cy="302.2" r="2.25"/>
<circle cx="316.9" cy="302.0" r="2.25"/>
<circle cx="319.4" cy="301.9" r="2.25"/>
<circle cx="322.0" cy="301.7" r="2.25"/>
<circle cx="324.5" cy="301.5" r="2.25"/>
<circle cx="287.5" cy="302.4" r="2.25"/>
<circle cx="290.1" cy="302.9" r="2.25"/>
<circle cx="292.7" cy="303.4" r="2.25"/>
<circle cx="295.3" cy="303.9" r="2.25"/>
<circle cx="297.9" cy="304.4" r="2.25"/>
<circle cx="300.5" cy="304.9" r="2.25"/>
<circle cx="303.1" cy="304.4" r="2.25"/>
<circle cx="305.7" cy="303.9" r="2.25"/>
<circle cx="308.3" cy="303.4" r="2.25"/>
<circle cx="310.9" cy="302.9" r="2.25"/>
<circle cx="313.5" cy="302.4" r="2.25"/>
</g>
<line x1="266.50" y1="298.65" x2="334.60" y2="298.65" stroke="#000" stroke-width="1.5" stroke-linecap="butt"/>
<g fill="#c5612f">
<circle cx="368.9" cy="342.5" r="2.3"/>
<circle cx="375.5" cy="343.5" r="2.3"/>
<circle cx="382.0" cy="347.0" r="2.3"/>
<circle cx="388.5" cy="346.6" r="2.3"/>
<circle cx="395.1" cy="342.8" r="2.3"/>
<circle cx="395.1" cy="351.8" r="2.3"/>
<circle cx="368.9" cy="353.7" r="2.3"/>
<circle cx="375.5" cy="357.5" r="2.3"/>
<circle cx="382.0" cy="357.7" r="2.3"/>
<circle cx="388.2" cy="357.5" r="2.3"/>
<circle cx="378.6" cy="384.9" r="2.3"/>
<circle cx="385.1" cy="386.1" r="2.3"/>
<circle cx="368.8" cy="388.0" r="2.3"/>
<circle cx="394.9" cy="389.2" r="2.3"/>
<circle cx="375.2" cy="392.2" r="2.3"/>
<circle cx="388.2" cy="392.5" r="2.3"/>
<circle cx="381.8" cy="394.1" r="2.3"/>
<circle cx="359.8" cy="360.7" r="2.3"/>
<circle cx="362.4" cy="361.3" r="2.3"/>
<circle cx="365.0" cy="361.8" r="2.3"/>
<circle cx="367.6" cy="362.3" r="2.3"/>
<circle cx="370.2" cy="362.8" r="2.3"/>
<circle cx="372.8" cy="363.3" r="2.3"/>
<circle cx="375.4" cy="363.7" r="2.3"/>
<circle cx="378.0" cy="364.1" r="2.3"/>
<circle cx="380.6" cy="364.4" r="2.3"/>
<circle cx="383.3" cy="364.4" r="2.3"/>
<circle cx="385.9" cy="364.1" r="2.3"/>
<circle cx="388.5" cy="363.7" r="2.3"/>
<circle cx="391.1" cy="363.3" r="2.3"/>
<circle cx="393.7" cy="362.8" r="2.3"/>
<circle cx="396.3" cy="362.3" r="2.3"/>
<circle cx="398.9" cy="361.8" r="2.3"/>
<circle cx="401.5" cy="361.3" r="2.3"/>
<circle cx="404.1" cy="360.7" r="2.3"/>
<circle cx="358.0" cy="366.1" r="2.3"/>
<circle cx="360.6" cy="366.6" r="2.3"/>
<circle cx="363.2" cy="367.0" r="2.3"/>
<circle cx="365.7" cy="367.5" r="2.3"/>
<circle cx="368.3" cy="367.9" r="2.3"/>
<circle cx="370.9" cy="368.3" r="2.3"/>
<circle cx="373.5" cy="368.6" r="2.3"/>
<circle cx="376.1" cy="369.0" r="2.3"/>
<circle cx="378.6" cy="369.2" r="2.3"/>
<circle cx="381.2" cy="369.5" r="2.3"/>
<circle cx="383.8" cy="369.4" r="2.3"/>
<circle cx="386.4" cy="369.1" r="2.3"/>
<circle cx="388.9" cy="368.8" r="2.3"/>
<circle cx="391.5" cy="368.5" r="2.3"/>
<circle cx="394.1" cy="368.1" r="2.3"/>
<circle cx="396.7" cy="367.7" r="2.3"/>
<circle cx="399.3" cy="367.3" r="2.3"/>
<circle cx="401.8" cy="366.8" r="2.3"/>
<circle cx="404.4" cy="366.4" r="2.3"/>
<circle cx="407.0" cy="365.9" r="2.3"/>
<circle cx="368.0" cy="370.3" r="2.3"/>
<circle cx="370.8" cy="370.3" r="2.3"/>
<circle cx="373.6" cy="370.3" r="2.3"/>
<circle cx="376.4" cy="370.3" r="2.3"/>
<circle cx="379.2" cy="370.3" r="2.3"/>
<circle cx="382.0" cy="370.3" r="2.3"/>
<circle cx="384.8" cy="370.3" r="2.3"/>
<circle cx="387.6" cy="370.3" r="2.3"/>
<circle cx="390.4" cy="370.3" r="2.3"/>
<circle cx="393.2" cy="370.3" r="2.3"/>
<circle cx="396.0" cy="370.3" r="2.3"/>
<circle cx="381.6" cy="360.9" r="2.3"/>
<circle cx="381.6" cy="366.6" r="2.3"/>
<circle cx="369.0" cy="373.0" r="2.3"/>
<circle cx="372.2" cy="373.0" r="2.3"/>
<circle cx="375.5" cy="373.0" r="2.3"/>
<circle cx="378.8" cy="373.0" r="2.3"/>
<circle cx="382.0" cy="373.0" r="2.3"/>
<circle cx="385.2" cy="373.0" r="2.3"/>
<circle cx="388.5" cy="373.0" r="2.3"/>
<circle cx="391.8" cy="373.0" r="2.3"/>
<circle cx="395.0" cy="373.0" r="2.3"/>
<circle cx="360.3" cy="374.9" r="2.3"/>
<circle cx="363.0" cy="375.3" r="2.3"/>
<circle cx="365.7" cy="375.7" r="2.3"/>
<circle cx="368.4" cy="376.1" r="2.3"/>
<circle cx="371.1" cy="376.4" r="2.3"/>
<circle cx="373.8" cy="376.8" r="2.3"/>
<circle cx="376.5" cy="377.2" r="2.3"/>
<circle cx="379.2" cy="376.6" r="2.3"/>
<circle cx="381.9" cy="376.6" r="2.3"/>
<circle cx="384.5" cy="376.6" r="2.3"/>
<circle cx="387.2" cy="377.2" r="2.3"/>
<circle cx="389.9" cy="376.8" r="2.3"/>
<circle cx="392.6" cy="376.5" r="2.3"/>
<circle cx="395.3" cy="376.1" r="2.3"/>
<circle cx="398.0" cy="375.7" r="2.3"/>
<circle cx="400.7" cy="375.3" r="2.3"/>
<circle cx="403.4" cy="374.9" r="2.3"/>
<circle cx="364.9" cy="379.0" r="2.3"/>
<circle cx="371.5" cy="380.5" r="2.3"/>
<circle cx="397.9" cy="380.0" r="2.3"/>
<circle cx="391.7" cy="381.2" r="2.3"/>
<circle cx="378.8" cy="379.4" r="2.3"/>
<circle cx="385.6" cy="379.7" r="2.3"/>
<circle cx="381.6" cy="375.6" r="2.3"/>
</g>
<line x1="348.30" y1="371.20" x2="415.90" y2="371.20" stroke="#000" stroke-width="1.5" stroke-linecap="butt"/>
<g fill="#7c3f28" stroke="#5f2e1c" stroke-width="0.5">
<circle cx="463.2" cy="281.5" r="1.9"/>
<circle cx="456.8" cy="292.5" r="1.9"/>
<circle cx="463.3" cy="292.5" r="1.9"/>
<circle cx="469.9" cy="291.4" r="1.9"/>
<circle cx="460.1" cy="295.7" r="1.9"/>
<circle cx="466.6" cy="295.7" r="1.9"/>
<circle cx="483.5" cy="296.2" r="1.9"/>
<circle cx="440.4" cy="298.0" r="1.9"/>
<circle cx="463.3" cy="315.1" r="1.9"/>
<circle cx="440.4" cy="300.2" r="1.9"/>
<circle cx="443.7" cy="300.0" r="1.9"/>
<circle cx="446.9" cy="299.8" r="1.9"/>
<circle cx="450.2" cy="300.0" r="1.9"/>
<circle cx="453.4" cy="300.2" r="1.9"/>
<circle cx="456.7" cy="300.3" r="1.9"/>
<circle cx="459.9" cy="300.5" r="1.9"/>
<circle cx="463.2" cy="300.7" r="1.9"/>
<circle cx="466.5" cy="300.5" r="1.9"/>
<circle cx="469.7" cy="300.3" r="1.9"/>
<circle cx="473.0" cy="300.2" r="1.9"/>
<circle cx="476.2" cy="300.0" r="1.9"/>
<circle cx="479.5" cy="299.8" r="1.9"/>
<circle cx="482.7" cy="300.0" r="1.9"/>
<circle cx="486.0" cy="300.2" r="1.9"/>
<circle cx="443.6" cy="302.5" r="1.9"/>
<circle cx="446.6" cy="302.5" r="1.9"/>
<circle cx="449.6" cy="302.5" r="1.9"/>
<circle cx="452.6" cy="302.5" r="1.9"/>
<circle cx="455.7" cy="302.5" r="1.9"/>
<circle cx="458.7" cy="302.5" r="1.9"/>
<circle cx="461.7" cy="302.5" r="1.9"/>
<circle cx="464.7" cy="302.5" r="1.9"/>
<circle cx="467.7" cy="302.5" r="1.9"/>
<circle cx="470.7" cy="302.5" r="1.9"/>
<circle cx="473.8" cy="302.5" r="1.9"/>
<circle cx="476.8" cy="302.5" r="1.9"/>
<circle cx="479.8" cy="302.5" r="1.9"/>
<circle cx="482.8" cy="302.5" r="1.9"/>
<circle cx="438.9" cy="308.6" r="1.9"/>
<circle cx="442.4" cy="309.0" r="1.9"/>
<circle cx="445.8" cy="309.4" r="1.9"/>
<circle cx="449.3" cy="309.8" r="1.9"/>
<circle cx="452.7" cy="310.2" r="1.9"/>
<circle cx="456.2" cy="310.6" r="1.9"/>
<circle cx="459.6" cy="310.6" r="1.9"/>
<circle cx="463.1" cy="310.6" r="1.9"/>
<circle cx="466.6" cy="310.6" r="1.9"/>
<circle cx="470.0" cy="310.6" r="1.9"/>
<circle cx="473.5" cy="310.2" r="1.9"/>
<circle cx="476.9" cy="309.8" r="1.9"/>
<circle cx="480.4" cy="309.4" r="1.9"/>
<circle cx="483.8" cy="309.0" r="1.9"/>
<circle cx="487.3" cy="308.6" r="1.9"/>
<circle cx="455.8" cy="306.6" r="1.9"/>
<circle cx="458.8" cy="306.6" r="1.9"/>
<circle cx="461.7" cy="306.6" r="1.9"/>
<circle cx="464.7" cy="306.6" r="1.9"/>
<circle cx="467.6" cy="306.6" r="1.9"/>
<circle cx="470.6" cy="306.6" r="1.9"/>
<circle cx="457.5" cy="308.6" r="1.9"/>
<circle cx="460.4" cy="308.6" r="1.9"/>
<circle cx="463.2" cy="308.6" r="1.9"/>
<circle cx="466.1" cy="308.6" r="1.9"/>
<circle cx="469.0" cy="308.6" r="1.9"/>
<circle cx="458.0" cy="310.9" r="1.9"/>
<circle cx="467.4" cy="311.5" r="1.9"/>
</g>
<line x1="429.30" y1="304.20" x2="497.00" y2="304.20" stroke="#000" stroke-width="1.5" stroke-linecap="butt"/>
</svg></body></html>
